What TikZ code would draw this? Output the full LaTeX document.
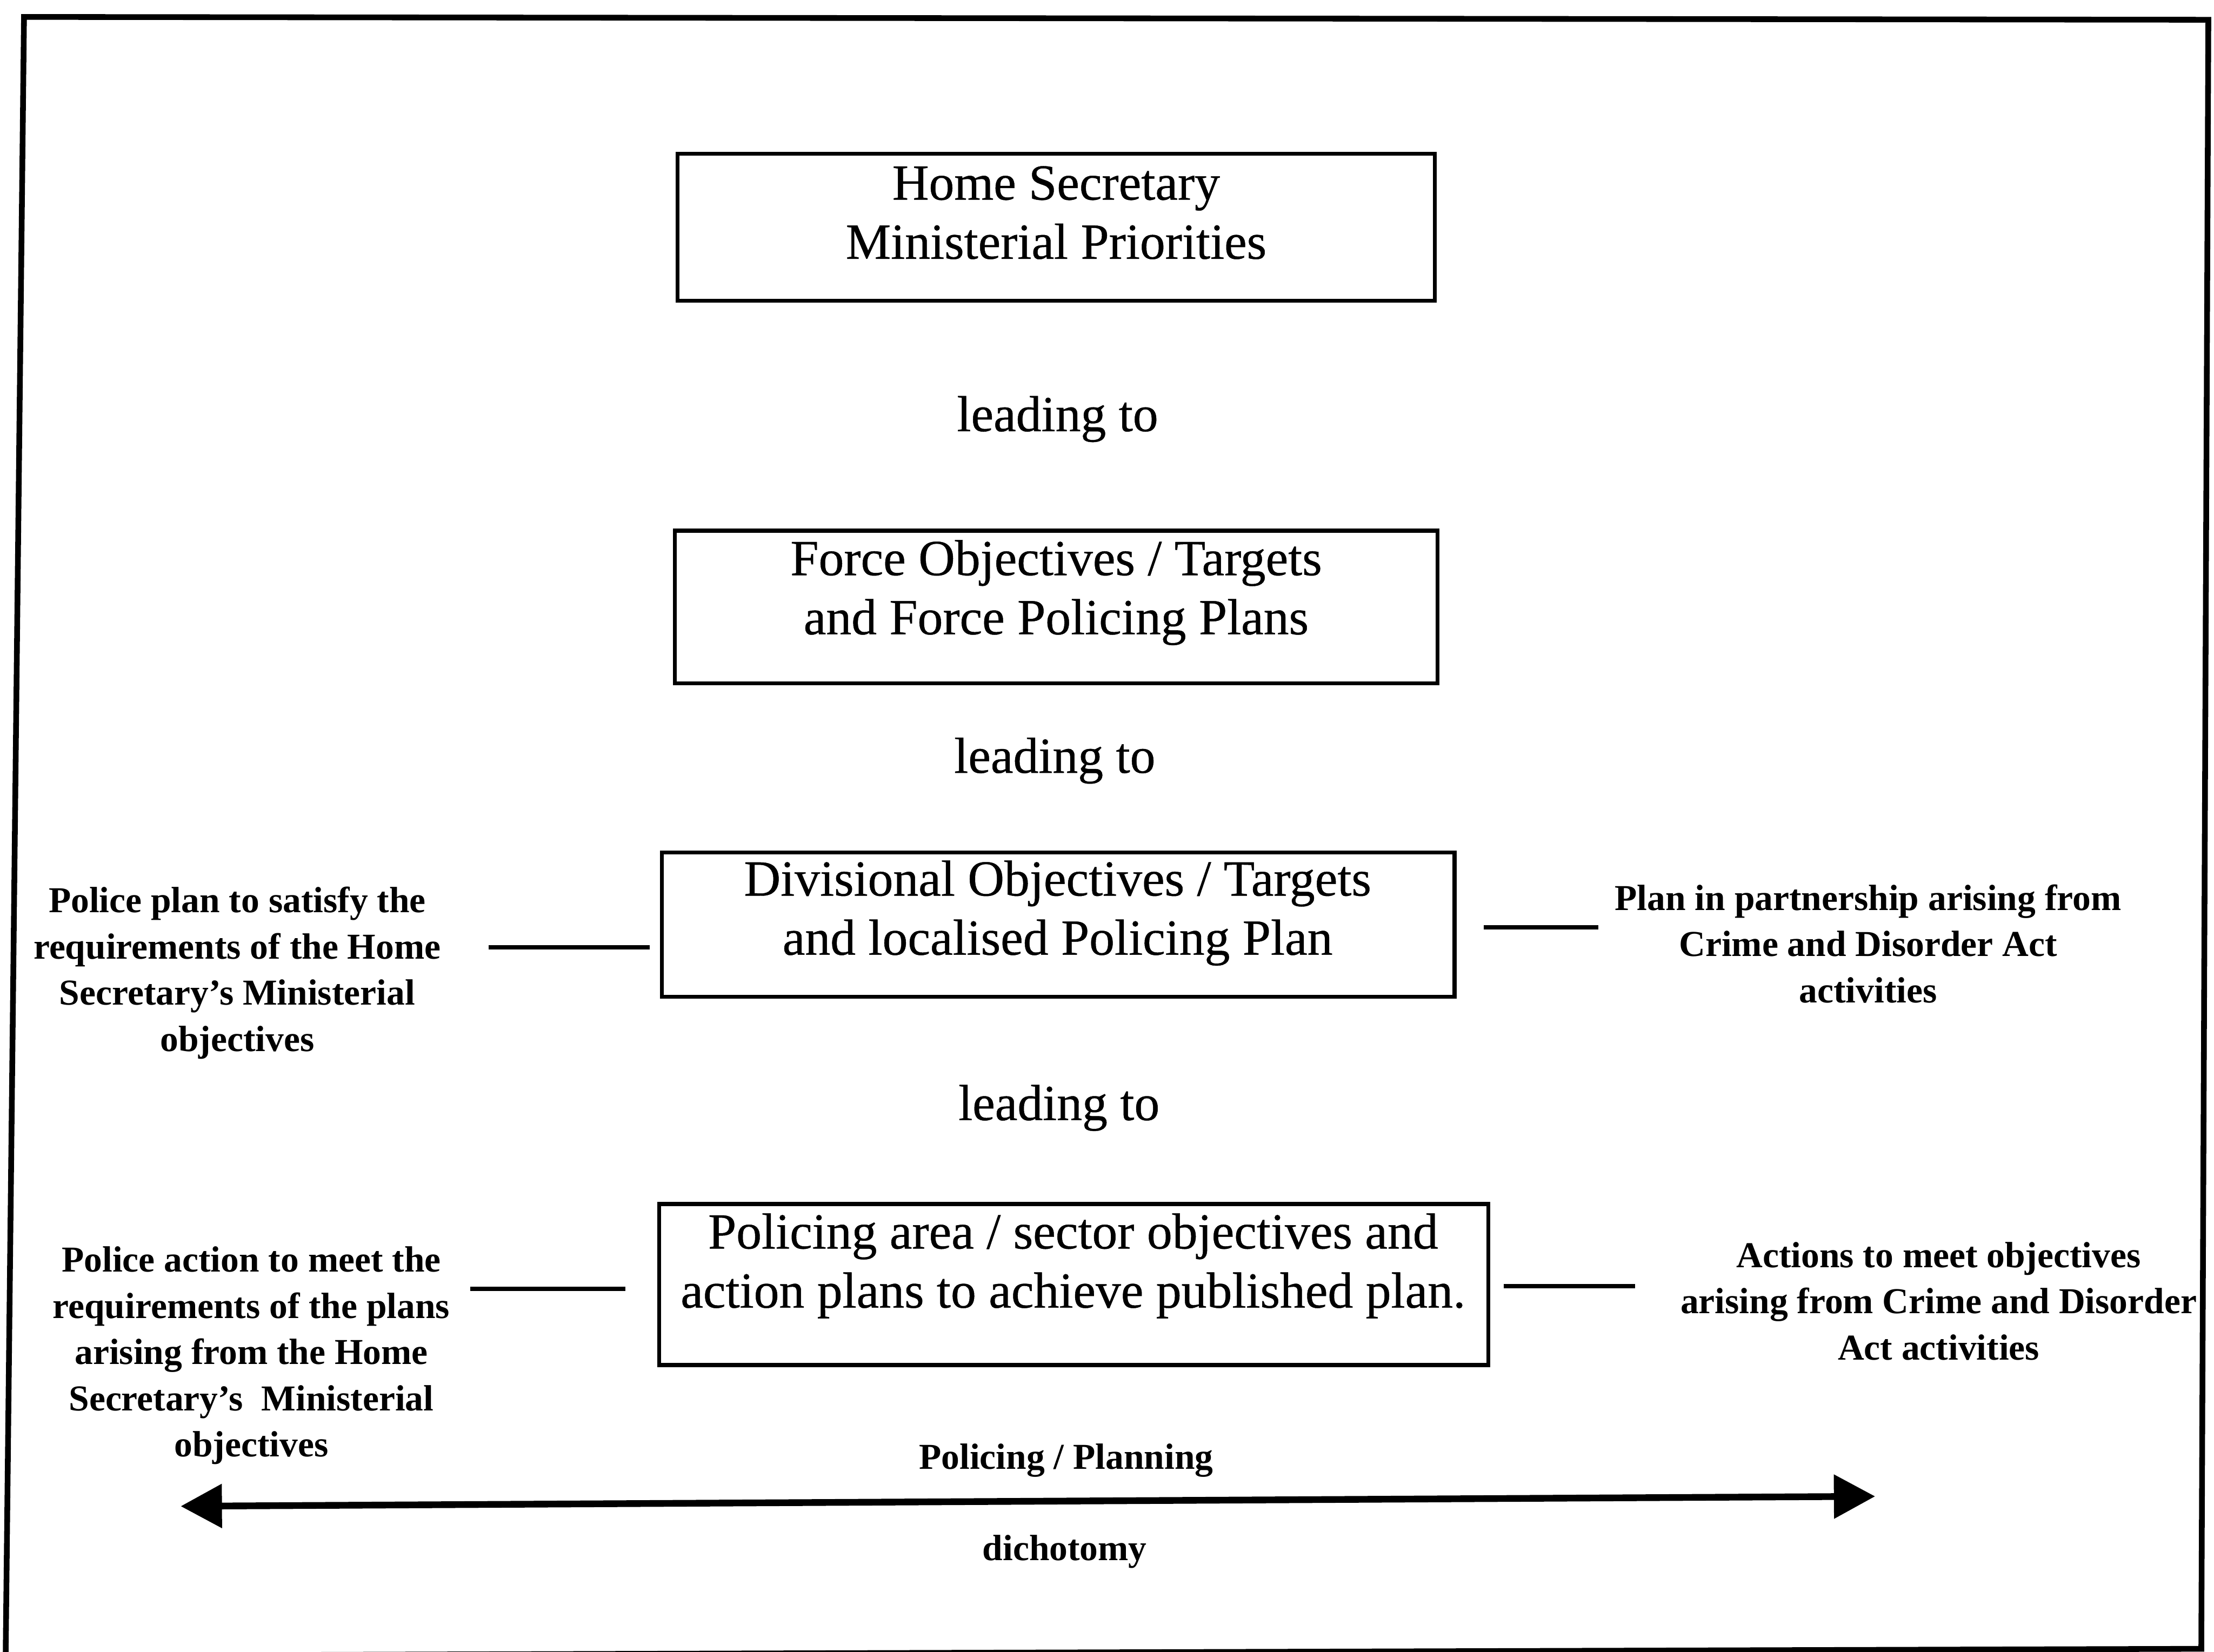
\documentclass[tikz,border=0pt]{standalone}
\usepackage{fontspec}
\setmainfont{Liberation Serif}
\newfontfamily\inkfont[FakeBold=0.5]{Liberation Serif}
\usetikzlibrary{arrows.meta}
\begin{document}
\begin{tikzpicture}[x=0.01cm, y=-0.01cm,
  panel/.style={draw, line width=0.8pt, inner sep=0pt},
  boxtext/.style={inner sep=0pt, align=center, font=\inkfont\fontsize{10.2}{11.9}\selectfont},
  linktext/.style={inner sep=0pt, align=center, font=\inkfont\fontsize{10.2}{12}\selectfont},
  sidetext/.style={inner sep=0pt, align=center, font=\fontsize{7.35}{9.3}\selectfont\bfseries},
  tie/.style={line width=0.85pt},
  frameline/.style={line width=1.15pt, line join=miter},
  dich/.style={line width=1.35pt,
    {Triangle[length=8.3pt,width=8.6pt]}-{Triangle[length=8.3pt,width=8.6pt]}}
]
\useasboundingbox (0,0) rectangle (1568,1170);

% outer frame
\begin{scope}
  \clip (0,0) rectangle (1568,1170);
  \draw[frameline] (17,12) -- (1564,14) -- (1559,1168) -- (4,1173) -- cycle;
\end{scope}

% the four levels
\node[panel, minimum width=5.36cm, minimum height=1.04cm] (b1) at (748,161) {};
\node[panel, minimum width=5.40cm, minimum height=1.08cm] (b2) at (748,430) {};
\node[panel, minimum width=5.61cm, minimum height=1.02cm] (b3) at (749.5,655) {};
\node[panel, minimum width=5.87cm, minimum height=1.14cm] (b4) at (760.5,910) {};

\node[boxtext] (t1) at (748,154) {\strut Home Secretary\\\strut Ministerial Priorities};
\node[boxtext] (t2) at (748,420) {\strut Force Objectives / Targets\\\strut and Force Policing Plans};
\node[boxtext] (t3) at (749,647) {\strut Divisional Objectives / Targets\\\strut and localised Policing Plan};
\node[boxtext] (t4) at (760,897) {\strut Policing area / sector objectives and\\\strut action plans to achieve published plan.};

\node[linktext] (lead1) at (749,297) {\strut leading to};
\node[linktext] (lead2) at (747,539) {\strut leading to};
\node[linktext] (lead3) at (750,785) {\strut leading to};

% side notes
\node[sidetext] (lt1) at (168,689) {\strut Police plan to satisfy the\\\strut requirements of the Home\\\strut Secretary’s Ministerial\\\strut objectives};
\node[sidetext] (rt1) at (1323,671) {\strut Plan in partnership arising from\\\strut Crime and Disorder Act\\\strut activities};
\node[sidetext] (lt2) at (178,960) {\strut Police action to meet the\\\strut requirements of the plans\\\strut arising from the Home\\\strut Secretary’s~~Ministerial\\\strut objectives};
\node[sidetext] (rt2) at (1373,924) {\strut Actions to meet objectives\\\strut arising from Crime and Disorder\\\strut Act activities};

% short ties between notes and boxes
\coordinate (l1a) at (346,671); \coordinate (l1b) at (460,671);
\coordinate (r1a) at (1051,657); \coordinate (r1b) at (1132,657);
\coordinate (l2a) at (333,913); \coordinate (l2b) at (443,913);
\coordinate (r2a) at (1065,911); \coordinate (r2b) at (1158,911);
\draw[tie] (l1a) -- (l1b);
\draw[tie] (r1a) -- (r1b);
\draw[tie] (l2a) -- (l2b);
\draw[tie] (r2a) -- (r2b);

% policing / planning dichotomy
\node[sidetext] (pp) at (755,1034) {\strut Policing / Planning};
\node[sidetext] (dy) at (754,1099) {\strut dichotomy};
\coordinate (dl) at (128,1067);
\coordinate (dr) at (1328,1060);
\draw[dich] (dl) -- (dr);
\end{tikzpicture}
\end{document}
